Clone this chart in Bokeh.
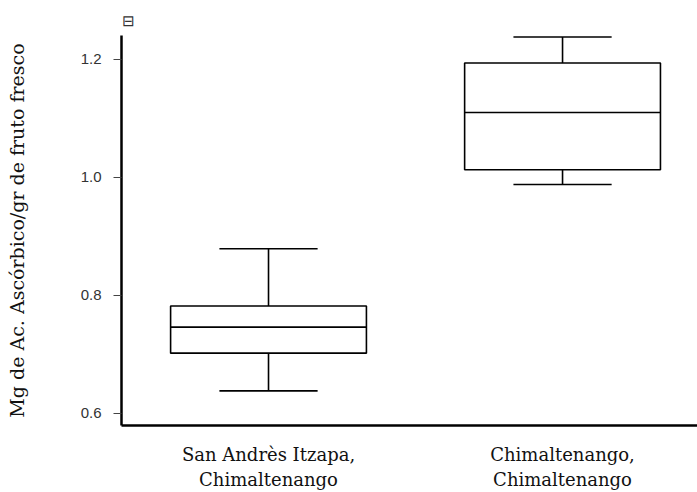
from bokeh.plotting import figure
from bokeh.models import Range1d, FixedTicker, ColumnDataSource, Title
from bokeh.embed import file_html
from bokeh.resources import INLINE

categories = ["San Andrès Itzapa,\nChimaltenango", "Chimaltenango,\nChimaltenango"]
lower_whisker = [0.638, 0.988]
q1 = [0.702, 1.013]
median = [0.746, 1.110]
q3 = [0.782, 1.194]
upper_whisker = [0.879, 1.238]
y_ticks = [0.6, 0.8, 1.0, 1.2]

pos = [i + 0.5 for i in range(len(categories))]
box_half = 0.333
cap_half = 0.167

src = ColumnDataSource(dict(
    x=pos,
    left=[p_ - box_half for p_ in pos],
    right=[p_ + box_half for p_ in pos],
    cl=[p_ - cap_half for p_ in pos],
    cr=[p_ + cap_half for p_ in pos],
    lw=lower_whisker, q1=q1, med=median, q3=q3, uw=upper_whisker,
))

p = figure(width=697, height=492, output_backend="svg", toolbar_location=None,
           x_range=Range1d(0, 1.959), y_range=Range1d(0.5793, 1.2405),
           min_border_left=121, min_border_right=0, min_border_top=35, min_border_bottom=65)
p.outline_line_color = None
p.xgrid.visible = False
p.ygrid.visible = False

t = Title(text="⊟", align="left", text_font_size="15px", text_font_style="normal",
          text_color="#333333", offset=0, standoff=14)
p.add_layout(t, "above")

# whiskers
p.segment(x0="x", y0="q3", x1="x", y1="uw", source=src, line_color="black", line_width=1.6)
p.segment(x0="x", y0="lw", x1="x", y1="q1", source=src, line_color="black", line_width=1.6)
p.segment(x0="cl", y0="uw", x1="cr", y1="uw", source=src, line_color="black", line_width=1.6)
p.segment(x0="cl", y0="lw", x1="cr", y1="lw", source=src, line_color="black", line_width=1.6)
# boxes
p.quad(left="left", right="right", bottom="q1", top="q3", source=src,
       fill_color="white", line_color="black", line_width=1.6)
p.segment(x0="left", y0="med", x1="right", y1="med", source=src, line_color="black", line_width=1.6)

# x axis
p.xaxis.ticker = FixedTicker(ticks=pos)
p.xaxis.major_label_overrides = {pos[i]: categories[i] for i in range(len(categories))}
p.xaxis.major_tick_line_color = None
p.xaxis.minor_tick_line_color = None
p.xaxis.axis_line_width = 2.5
p.xaxis.axis_line_color = "black"
p.xaxis.major_label_text_font = "DejaVu Serif"
p.xaxis.major_label_text_font_size = "18px"
p.xaxis.major_label_text_color = "#111111"
p.xaxis.major_label_standoff = 12

# y axis
p.yaxis.ticker = FixedTicker(ticks=y_ticks)
p.yaxis.major_label_overrides = {t_: f"{t_:.1f}" for t_ in y_ticks}
p.yaxis.minor_tick_line_color = None
p.yaxis.major_tick_in = 0
p.yaxis.major_tick_out = 8
p.yaxis.major_tick_line_color = "#444444"
p.yaxis.axis_line_width = 2.5
p.yaxis.axis_line_color = "black"
p.yaxis.major_label_text_font = "Liberation Sans"
p.yaxis.major_label_text_font_size = "15px"
p.yaxis.major_label_text_color = "#333333"
p.yaxis.major_label_standoff = 12
p.yaxis.axis_label = "Mg de Ac. Ascórbico/gr de fruto fresco"
p.yaxis.axis_label_text_font = "DejaVu Serif"
p.yaxis.axis_label_text_font_size = "19px"
p.yaxis.axis_label_text_font_style = "normal"
p.yaxis.axis_label_text_color = "#111111"
p.yaxis.axis_label_standoff = 50

open("out.html", "w").write(file_html(p, INLINE))
